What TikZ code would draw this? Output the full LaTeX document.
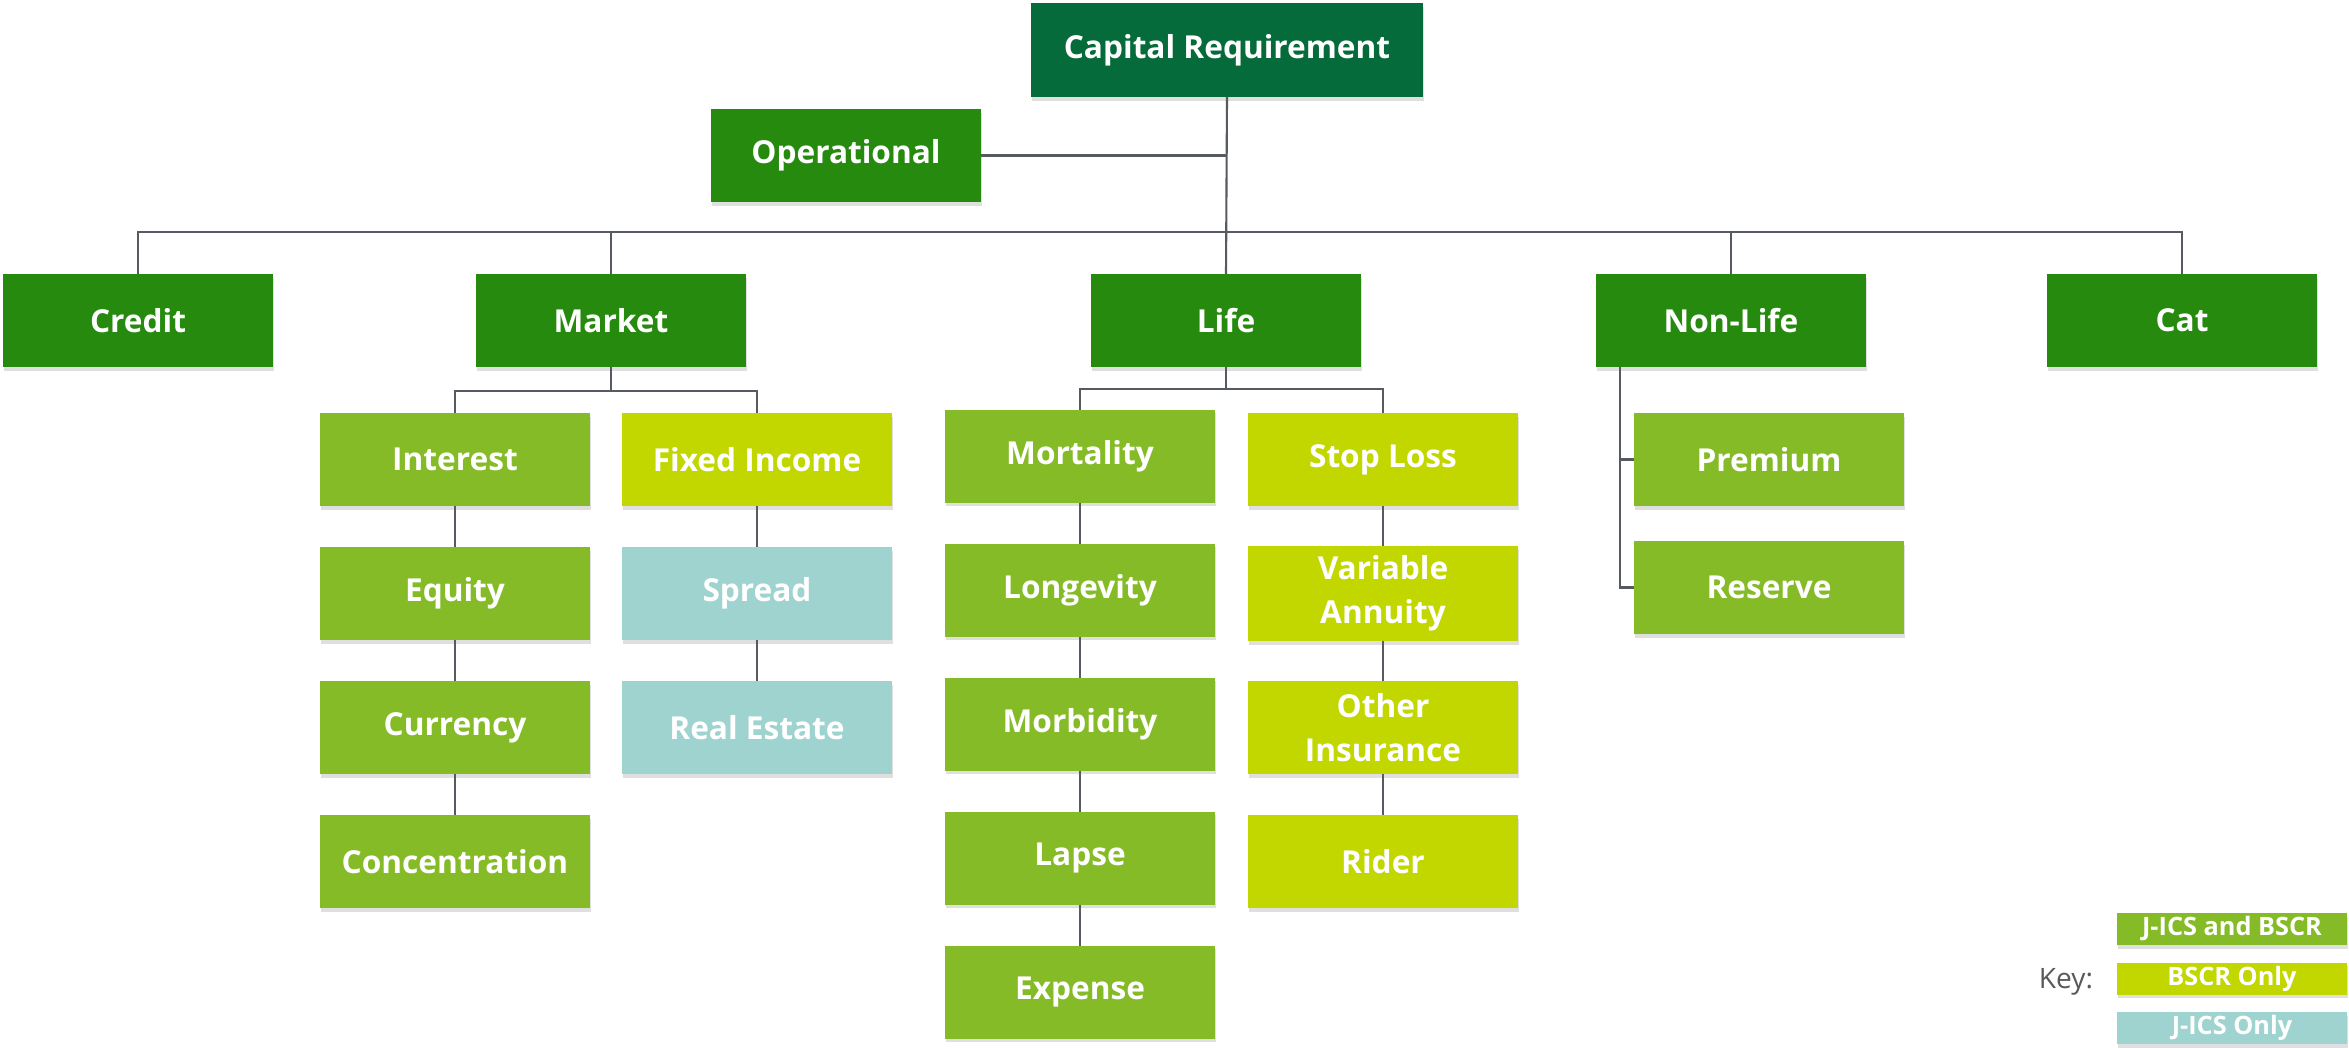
\documentclass[tikz,border=0pt]{standalone}
\usepackage{fontspec}
\setmainfont{Open Sans}
\usetikzlibrary{positioning, shadows}

\definecolor{capgreen}{HTML}{056B3A}
\definecolor{riskgreen}{HTML}{268A0F}
\definecolor{bothgreen}{HTML}{86BB28}
\definecolor{bscrlime}{HTML}{C2D600}
\definecolor{jicsteal}{HTML}{9FD3CF}
\definecolor{linkgray}{HTML}{555B61}
\definecolor{keygray}{HTML}{595959}

\tikzset{box/.style={rectangle,minimum width=2.7cm,minimum height=0.93cm,inner sep=1mm,outer sep=0pt,text=white,align=center,font=\bfseries\fontsize{9}{12.5}\selectfont,drop shadow={shadow xshift=0.3pt,shadow yshift=-1pt,opacity=0.25}}}
\tikzset{top box/.style={box,fill=capgreen,minimum width=3.92cm,minimum height=0.94cm}}
\tikzset{risk box/.style={box,fill=riskgreen}}
\tikzset{both box/.style={box,fill=bothgreen}}
\tikzset{bscr box/.style={box,fill=bscrlime}}
\tikzset{jics box/.style={box,fill=jicsteal}}
\tikzset{key box/.style={box,minimum width=2.3cm,minimum height=0.32cm,inner sep=0pt,font=\bfseries\fontsize{7.2}{8}\selectfont}}
\tikzset{link/.style={draw=linkgray,line width=0.6pt}}

\begin{document}
\begin{tikzpicture}[node distance=1.34cm]
    \useasboundingbox (0,0) rectangle (23.49,-10.47);

    % top of the tree
    \node[top box] (cap) at (12.27,-0.50) {Capital Requirement};
    \node[risk box] (oper) at (8.46,-1.555) {Operational};

    % risk categories
    \node[risk box] (credit) at (1.38,-3.205) {Credit};
    \node[risk box] (market) at (6.11,-3.205) {Market};
    \node[risk box] (life) at (12.26,-3.205) {Life};
    \node[risk box] (nonlife) at (17.31,-3.205) {Non-Life};
    \node[risk box] (cat) at (21.82,-3.205) {Cat};

    % market
    \node[both box] (interest) at (4.55,-4.595) {Interest};
    \node[both box, below of=interest] (equity) {Equity};
    \node[both box, below of=equity] (currency) {Currency};
    \node[both box, below of=currency] (conc) {Concentration};
    \node[bscr box] (fixed) at (7.57,-4.595) {Fixed Income};
    \node[jics box, below of=fixed] (spread) {Spread};
    \node[jics box, below of=spread] (realestate) {Real Estate};

    % life
    \node[both box] (mortality) at (10.80,-4.56) {Mortality};
    \node[both box, below of=mortality] (longevity) {Longevity};
    \node[both box, below of=longevity] (morbidity) {Morbidity};
    \node[both box, below of=morbidity] (lapse) {Lapse};
    \node[both box, below of=lapse] (expense) {Expense};
    \node[bscr box] (stoploss) at (13.83,-4.595) {Stop Loss};
    \node[bscr box, below of=stoploss] (varann) {Variable\\Annuity};
    \node[bscr box, below of=varann] (otherins) {Other\\Insurance};
    \node[bscr box, below of=otherins] (rider) {Rider};

    % non-life
    \node[both box] (premium) at (17.69,-4.595) {Premium};
    \node[both box] (reserve) at (17.69,-5.875) {Reserve};

    % key
    \node[text=keygray, font=\fontsize{8}{9}\selectfont] (keylabel) at (20.66,-9.82) {Key:};
    \node[key box, fill=bothgreen] (keyboth) at (22.32,-9.29) {J-ICS and BSCR};
    \node[key box, fill=bscrlime, below of=keyboth, node distance=0.495cm] (keybscr) {BSCR Only};
    \node[key box, fill=jicsteal, below of=keybscr, node distance=0.495cm] (keyjics) {J-ICS Only};

    % connectors
    \coordinate (bus) at (12.27,-2.32);
    \draw[link] (cap.south) -- (life.north);
    \draw[link] (oper.east) -- (oper.east -| cap.south);
    \draw[link] (credit.north) |- (bus) -| (cat.north);
    \draw[link] (market.north) -- (market.north |- bus);
    \draw[link] (nonlife.north) -- (nonlife.north |- bus);

    \draw[link] (market.south) -- ++(0,-0.24) coordinate (mktbus);
    \draw[link] (interest.north) |- (mktbus) -| (fixed.north);
    \draw[link] (interest) -- (equity) -- (currency) -- (conc);
    \draw[link] (fixed) -- (spread) -- (realestate);

    \draw[link] (life.south) -- ++(0,-0.22) coordinate (lifebus);
    \draw[link] (mortality.north) |- (lifebus) -| (stoploss.north);
    \draw[link] (mortality) -- (longevity) -- (morbidity) -- (lapse) -- (expense);
    \draw[link] (stoploss) -- (varann) -- (otherins) -- (rider);

    \coordinate (nltrunk) at ([xshift=0.24cm]nonlife.south west);
    \draw[link] (nltrunk) |- (reserve.west);
    \draw[link] (nltrunk |- premium.west) -- (premium.west);
\end{tikzpicture}
\end{document}
